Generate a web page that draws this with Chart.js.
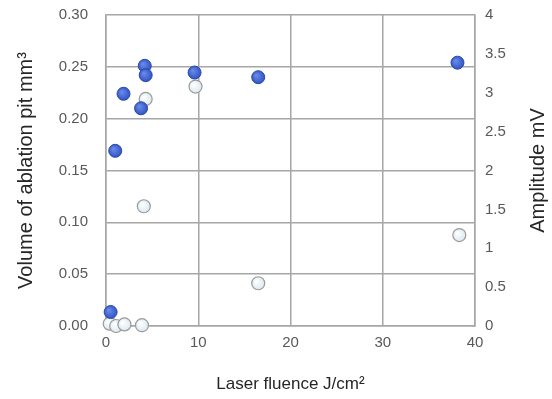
<!DOCTYPE html>
<html><head><meta charset="utf-8">
<script src="https://cdn.jsdelivr.net/npm/chart.js@4/dist/chart.umd.min.js"></script>
<style>html,body{margin:0;padding:0;background:#fff;overflow:hidden}#wrap{width:552px;height:399px;overflow:hidden}#c{display:block;margin-top:-12px}</style>
</head><body><div id="wrap"><canvas id="c" width="552" height="411"></canvas></div>
<script>
// Data
const volumeFluence = [0.5, 1.0, 1.9, 3.8, 4.2, 4.3, 9.6, 16.5, 38.1];
const volumeValues  = [0.0135, 0.169, 0.224, 0.210, 0.251, 0.242, 0.2445, 0.240, 0.254];
const ampFluence = [0.4, 1.1, 2.0, 3.9, 4.1, 4.3, 9.7, 16.5, 38.3];
const ampValues  = [0.03, 0.0, 0.02, 0.01, 1.54, 2.92, 3.08, 0.55, 1.17];
const xTicks = [0, 10, 20, 30, 40];
const leftTicks = [0, 0.05, 0.10, 0.15, 0.20, 0.25, 0.30];
const rightTicks = [0, 0.5, 1, 1.5, 2, 2.5, 3, 3.5, 4];
const leftTitle = 'Volume of ablation pit mm³';
const rightTitle = 'Amplitude mV';

const toPts = (xs, ys) => xs.map((x, i) => ({x: x, y: ys[i]}));

function grad(ctx, inner, outer) {
  const el = ctx.element;
  if (!el || el.x === undefined || isNaN(el.x)) return outer;
  const c = ctx.chart.ctx;
  const g = c.createRadialGradient(el.x - 2, el.y - 2, 0.5, el.x, el.y, 7);
  g.addColorStop(0, inner);
  g.addColorStop(1, outer);
  return g;
}

const FAM = "'Liberation Sans', Arial, sans-serif";

function vTitle(chart, text, x) {
  const c = chart.ctx, a = chart.chartArea;
  c.save();
  c.translate(x, (a.top + a.bottom) / 2);
  c.rotate(-Math.PI / 2);
  c.font = '20px ' + FAM;
  c.fillStyle = '#262626';
  c.textAlign = 'center';
  c.textBaseline = 'middle';
  c.fillText(text, 0, 0);
  c.restore();
}

const sideTitles = {
  id: 'sideTitles',
  afterDraw(chart) {
    vTitle(chart, leftTitle, 26);
    vTitle(chart, rightTitle, 538);
  }
};

new Chart(document.getElementById('c'), {
  type: 'scatter',
  data: {
    datasets: [
      {
        label: 'Amplitude',
        data: toPts(ampFluence, ampValues),
        yAxisID: 'yR',
        clip: false,
        pointRadius: 6.5,
        pointBorderWidth: 1.2,
        borderColor: '#9a9a9a',
        backgroundColor: ctx => grad(ctx, '#ffffff', '#d9e8f0'),
        order: 2
      },
      {
        label: 'Volume',
        data: toPts(volumeFluence, volumeValues),
        yAxisID: 'y',
        clip: false,
        pointRadius: 6.5,
        pointBorderWidth: 1,
        borderColor: '#2a48a8',
        backgroundColor: ctx => grad(ctx, '#6a8ae8', '#2e52c4'),
        order: 1
      }
    ]
  },
  plugins: [sideTitles],
  options: {
    responsive: false,
    animation: false,
    layout: {padding: {top: 0, left: 0, right: 0, bottom: 0}},
    plugins: {legend: {display: false}, tooltip: {enabled: false}},
    scales: {
      x: {
        type: 'linear', min: 0, max: 40,
        afterBuildTicks: s => { s.ticks = xTicks.map(v => ({value: v})); },
        afterFit: s => { s.height = 73; },
        grid: {color: '#a6a6a6', lineWidth: 1.5, drawTicks: false},
        border: {color: '#a6a6a6', width: 1.5},
        ticks: {color: '#595959', font: {family: FAM, size: 15}, padding: 8},
        title: {display: true, text: 'Laser fluence J/cm²', color: '#262626', font: {family: FAM, size: 17}, padding: {top: 12}}
      },
      y: {
        type: 'linear', position: 'left', min: 0, max: 0.30,
        afterBuildTicks: s => { s.ticks = leftTicks.map(v => ({value: v})); },
        afterFit: s => { s.width = 106; },
        grid: {color: '#a6a6a6', lineWidth: 1.5, drawTicks: false},
        border: {color: '#a6a6a6', width: 1.5},
        ticks: {color: '#595959', font: {family: FAM, size: 15}, padding: 18, callback: v => v.toFixed(2)},
        title: {display: false}
      },
      yR: {
        type: 'linear', position: 'right', min: 0, max: 4,
        afterBuildTicks: s => { s.ticks = rightTicks.map(v => ({value: v})); },
        afterFit: s => { s.width = 77; },
        grid: {display: false, drawTicks: false},
        border: {color: '#a6a6a6', width: 1.5},
        ticks: {color: '#595959', font: {family: FAM, size: 15}, padding: 10, callback: v => String(v)},
        title: {display: false}
      }
    }
  }
});
</script>
</body></html>
